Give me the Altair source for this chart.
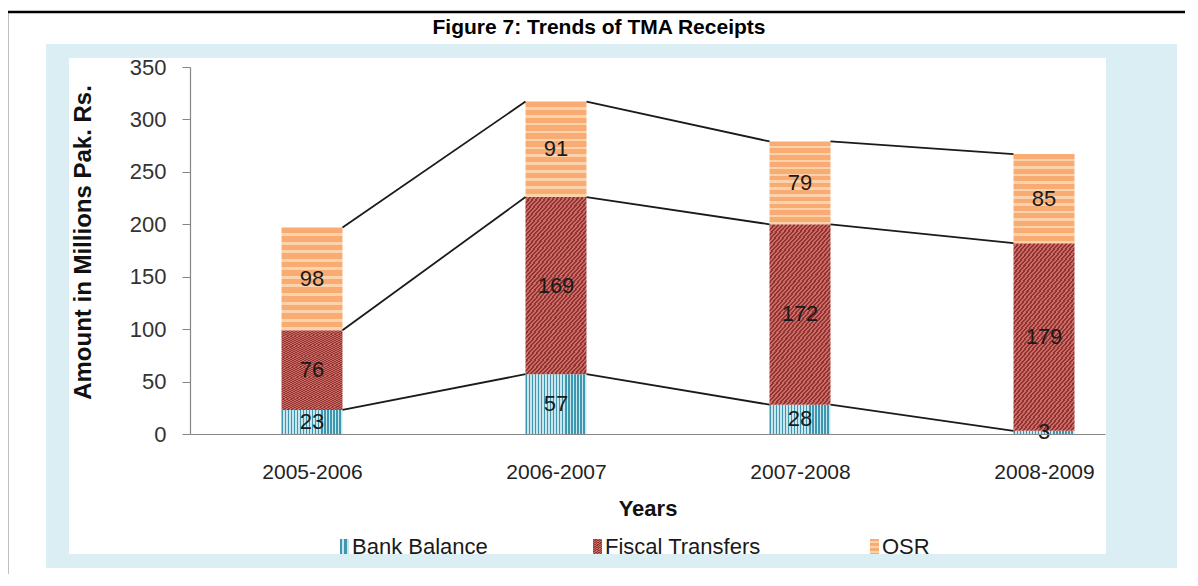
import json
import altair as alt
import pandas as pd

# ---------------- data ----------------
YEARS = ["2005-2006", "2006-2007", "2007-2008", "2008-2009"]
SERIES = ["Bank Balance", "Fiscal Transfers", "OSR"]
BANK_BALANCE = [23, 57, 28, 3]
FISCAL_TRANSFERS = [76, 169, 172, 179]
OSR = [98, 91, 79, 85]
Y_TICKS = [0, 50, 100, 150, 200, 250, 300, 350]
TITLE = "Figure 7: Trends of TMA Receipts"
Y_TITLE = "Amount in Millions Pak. Rs."
X_TITLE = "Years"

# ---------------- style / layout ----------------
FONT = "Liberation Sans"
W, H = 915, 367
HALF = 0.125            # half bar width in category units
BLUE = "#DBEEF3"

values = [BANK_BALANCE, FISCAL_TRANSFERS, OSR]
rows = []
for i, year in enumerate(YEARS):
    base = 0
    for s, name in enumerate(SERIES):
        v = values[s][i]
        rows.append(dict(idx=i, year=year, series=name, order=s, value=v,
                         y0=base, y1=base + v))
        base += v
df = pd.DataFrame(rows)

segs = []
for s, name in enumerate(SERIES):
    for i in range(len(YEARS) - 1):
        a = df[(df.idx == i) & (df.order == s)].y1.iloc[0]
        b = df[(df.idx == i + 1) & (df.order == s)].y1.iloc[0]
        segs.append(dict(idx=i, series=name, ya=a, yb=b))
seg_df = pd.DataFrame(segs)


def stripes(c1, c2, n, x2, y2, duty=0.5):
    stops = []
    for k in range(n):
        a = k / n
        m = (k + duty) / n
        b = (k + 1) / n
        stops += [(a, c1), (m, c1), (m, c2), (b, c2)]
    return alt.LinearGradient(
        gradient="linear",
        stops=[alt.GradientStop(offset=min(1.0, o), color=c) for o, c in stops],
        x1=0, y1=0, x2=x2, y2=y2,
    )


FILLS = {
    "Bank Balance": stripes("#3D97AE", "#C9E6EE", 20, 1, 0, 0.45),
    "Fiscal Transfers": stripes("#8E3431", "#CD6A66", 110, 1, 2.5, 0.5),
    "OSR": stripes("#F8AC74", "#FCD2AB", 12, 0, 1, 0.65),
}

x_scale = alt.Scale(domain=[-0.5, 3.25], nice=False, zero=False)
y_scale = alt.Scale(domain=[0, 350], nice=False)

label_expr = json.dumps(YEARS) + "[datum.value]"
X_AX = alt.Axis(values=[0, 1, 2, 3], labelExpr=label_expr, ticks=False, grid=False,
                domainColor="#868686", domainWidth=1.2, labelFontSize=21,
                labelColor="#222222", labelPadding=27, labelFlush=False,
                labelOverlap=False, title=X_TITLE, titleFontSize=22,
                titleFontWeight="bold", titleColor="#111111", titleY=81,
                titleBaseline="alphabetic", zindex=1)
Y_AX = alt.Axis(values=Y_TICKS, grid=False, domainColor="#868686", domainWidth=1.2,
                tickColor="#868686", tickSize=8, labelFontSize=22,
                labelColor="#333333", labelPadding=16, title=Y_TITLE,
                titleFontSize=24, titleFontWeight="bold", titleColor="#111111",
                titleX=-100, titleY=175, titleBaseline="alphabetic",
                titleAngle=270, titleAlign="center", zindex=1)

one = pd.DataFrame({"t": [TITLE]})


def box(x, x2, y, y2, **kw):
    return alt.Chart(one).mark_rect(**kw).encode(
        x=alt.value(x), x2=alt.value(x2), y=alt.value(y), y2=alt.value(y2))


border = box(-183, 1100, -55, 600, fill="transparent", stroke="#000000", strokeWidth=2.5)
panel = box(-144, 987, -23, 501, fill=BLUE)
inner = box(-121, 916, -9, 487, fill="#FFFFFF")
bottom_band = box(-144, 987, 487, 501, fill=BLUE)
right_band = box(916, 987, -23, 501, fill=BLUE)

title = alt.Chart(one).mark_text(font=FONT, fontSize=21, fontWeight="bold",
                                 align="center", baseline="alphabetic",
                                 color="#000000").encode(
    x=alt.value(409), y=alt.value(-33), text="t:N")

bars = []
for name in SERIES:
    bars.append(
        alt.Chart(df).transform_filter(alt.datum.series == name)
        .transform_calculate(xa=f"datum.idx - {HALF}", xb=f"datum.idx + {HALF}")
        .mark_bar(fill=FILLS[name])
        .encode(x=alt.X("xa:Q", scale=x_scale, axis=X_AX),
                x2="xb:Q",
                y=alt.Y("y0:Q", scale=y_scale, axis=Y_AX),
                y2="y1:Q")
    )

lines = (alt.Chart(seg_df)
         .transform_calculate(xa=f"datum.idx + {HALF}", xb=f"datum.idx + 1 - {HALF}")
         .mark_rule(color="#1A1A1A", strokeWidth=1.8)
         .encode(x=alt.X("xa:Q", scale=x_scale, axis=X_AX), x2="xb:Q",
                 y=alt.Y("ya:Q", scale=y_scale, axis=Y_AX), y2="yb:Q"))

labels = (alt.Chart(df)
          .transform_calculate(mid="(datum.y0 + datum.y1) / 2")
          .mark_text(font=FONT, fontSize=22, color="#1A1A1A", baseline="middle")
          .encode(x=alt.X("idx:Q", scale=x_scale, axis=X_AX),
                  y=alt.Y("mid:Q", scale=y_scale, axis=Y_AX),
                  text="value:Q"))

# manual legend (bottom, partly hidden by the frame)
LEG_SWATCH_X = [150, 403, 680]
legend_layers = []
for name, sx in zip(SERIES, LEG_SWATCH_X):
    legend_layers.append(box(sx, sx + 9, 472, 487, fill=FILLS[name]))
    legend_layers.append(
        alt.Chart(pd.DataFrame({"t": [name]})).mark_text(
            font=FONT, fontSize=22, align="left", baseline="alphabetic",
            color="#1A1A1A").encode(x=alt.value(sx + 12), y=alt.value(487), text="t:N"))

chart = alt.layer(
    border, panel, inner, title, *bars, lines, labels, *legend_layers,
    bottom_band, right_band,
).properties(
    width=W, height=H,
    padding={"left": 182, "top": 59, "right": 80, "bottom": 140},
    autosize=alt.AutoSizeParams(type="none"),
    background="#FFFFFF",
).configure_view(stroke="transparent").configure(font=FONT)

chart.save("out.html", embed_options={"renderer": "svg", "actions": False})
